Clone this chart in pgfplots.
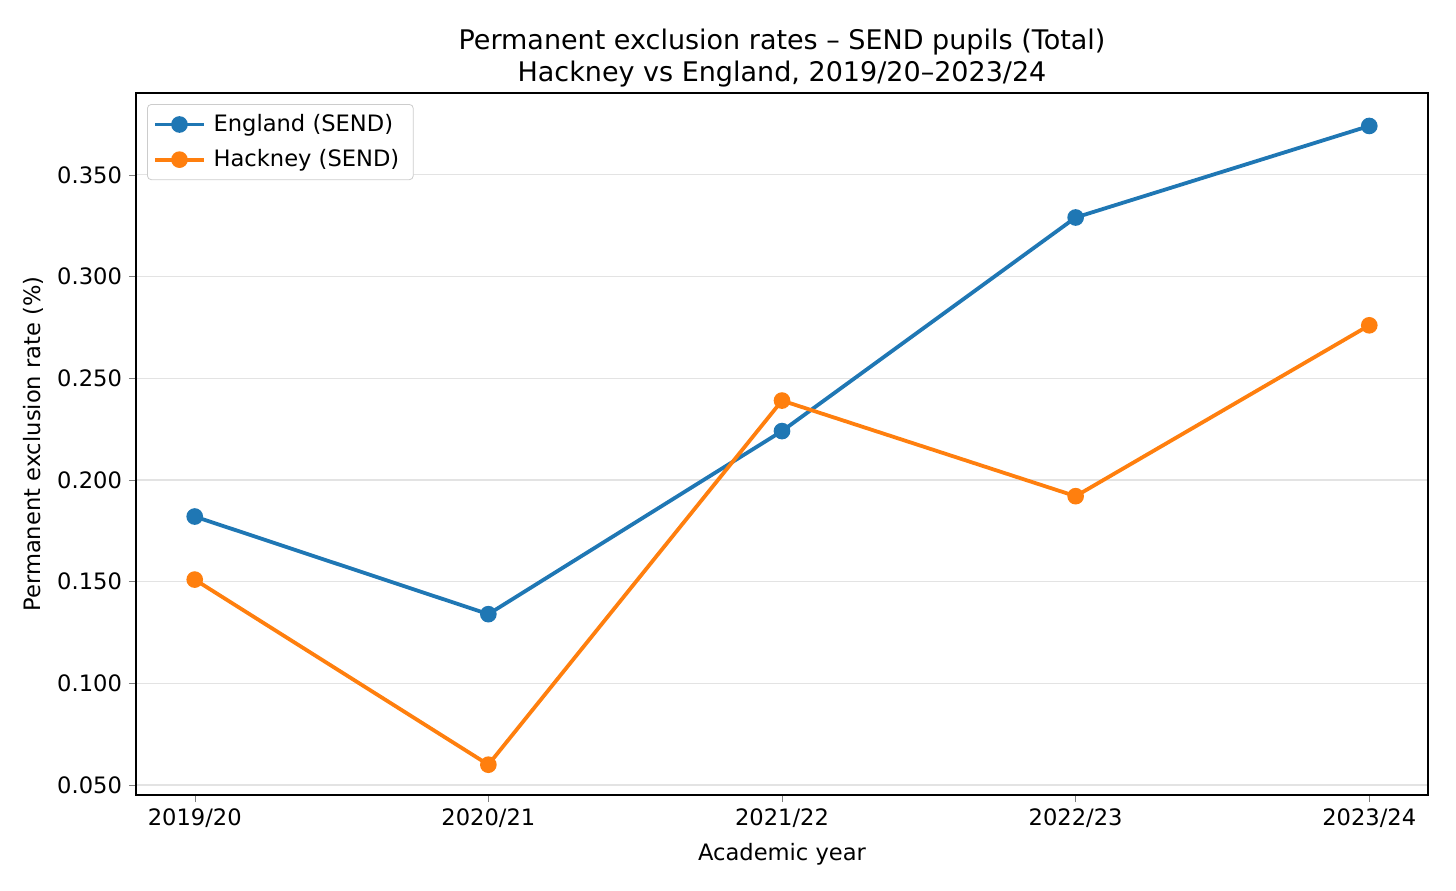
\documentclass[border=0pt]{standalone}
\usepackage{fontspec}
\setmainfont{DejaVu Sans}
\usepackage{pgfplots}
\pgfplotsset{compat=1.18}

\definecolor{mplblue}{HTML}{1F77B4}
\definecolor{mplorange}{HTML}{FF7F0E}

\begin{document}
\begin{tikzpicture}
\begin{axis}[
  scale only axis,
  width=646pt, height=351pt,
  xmin=-0.2, xmax=4.2,
  ymin=0.0451, ymax=0.3902,
  xtick={0,1,2,3,4},
  xticklabels={2019/20,2020/21,2021/22,2022/23,2023/24},
  ytick={0.05,0.10,0.15,0.20,0.25,0.30,0.35},
  yticklabel style={/pgf/number format/.cd,fixed,fixed zerofill,precision=3,assume math mode=true},
  tick label style={font=\fontsize{11.3}{13.5}\selectfont},
  tick align=outside,
  major tick length=3.5pt,
  xtick pos=bottom, ytick pos=left,
  axis line style={line width=0.8pt},
  ymajorgrids,
  grid style={line width=0.6pt, gray!22},
  title style={align=center, font=\fontsize{13.5}{16}\selectfont, yshift=-6.5pt},
  title={Permanent exclusion rates – SEND pupils (Total)\\Hackney vs England, 2019/20–2023/24},
  xlabel={Academic year},
  ylabel={Permanent exclusion rate (\%)},
  xlabel style={yshift=-1pt},
  label style={font=\fontsize{11.3}{13.5}\selectfont},
  legend style={at={(0,1)}, anchor=north west, xshift=5.5pt, yshift=-5.5pt,
    draw=gray!40, rounded corners=2pt, font=\fontsize{11.3}{13.5}\selectfont,
    row sep=3.5pt, inner xsep=3pt, inner ysep=3pt,
    nodes={inner xsep=4pt}},
  legend cell align=left,
  legend image code/.code={
    \draw[#1] (0cm,0cm) -- (0.85cm,0cm);
    \draw[#1,mark repeat=2,mark phase=2] plot coordinates {(0cm,0cm) (0.425cm,0cm) (0.85cm,0cm)};
  },
]
\addplot[color=mplblue, line width=1.9pt, mark=*, mark size=3.2pt, mark options={solid}]
  coordinates {(0,0.182) (1,0.134) (2,0.224) (3,0.329) (4,0.374)};
\addlegendentry{England (SEND)}
\addplot[color=mplorange, line width=1.9pt, mark=*, mark size=3.2pt, mark options={solid}]
  coordinates {(0,0.151) (1,0.060) (2,0.239) (3,0.192) (4,0.276)};
\addlegendentry{Hackney (SEND)}
\end{axis}
\pgfresetboundingbox
\path ([shift={(-68pt,-47.5pt)}]current axis.south west) rectangle ([shift={(14pt,46.5pt)}]current axis.north east);
\end{tikzpicture}
\end{document}
